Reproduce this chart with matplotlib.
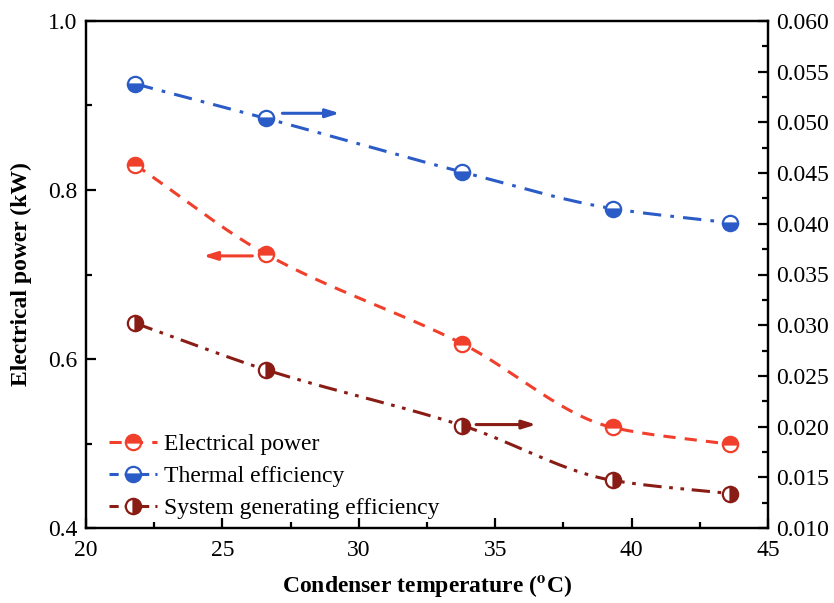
import numpy as np
import matplotlib
matplotlib.use("Agg")
import matplotlib.pyplot as plt
from matplotlib.ticker import MultipleLocator, FormatStrFormatter
from matplotlib.lines import Line2D

plt.rcParams['font.family'] = ['Liberation Serif', 'DejaVu Serif']
plt.rcParams['mathtext.fontset'] = 'stix'

temps = [21.8, 26.6, 33.8, 39.3, 43.6]
electrical_power = [0.830, 0.724, 0.618, 0.519, 0.499]
thermal_eff = [0.0538, 0.0504, 0.0451, 0.0415, 0.0401]
system_eff = [0.0302, 0.0256, 0.0201, 0.0147, 0.0134]

RED = '#f0402c'
BLUE = '#2b5bc6'
DRED = '#8a1c16'


def smooth(x, y, n=200):
    """Monotone (PCHIP) curve through the data points for drawing the line."""
    x = np.asarray(x, float); y = np.asarray(y, float)
    h = np.diff(x); delta = np.diff(y) / h
    m = len(x); d = np.zeros(m)
    for i in range(1, m - 1):
        if delta[i - 1] * delta[i] > 0:
            w1 = 2 * h[i] + h[i - 1]; w2 = h[i] + 2 * h[i - 1]
            d[i] = (w1 + w2) / (w1 / delta[i - 1] + w2 / delta[i])
    d[0] = delta[0]; d[-1] = delta[-1]
    xs = np.linspace(x[0], x[-1], n); ys = np.empty_like(xs)
    for k, xv in enumerate(xs):
        i = min(np.searchsorted(x, xv, side='right') - 1, m - 2)
        t = (xv - x[i]) / h[i]
        h00 = 2 * t**3 - 3 * t**2 + 1; h10 = t**3 - 2 * t**2 + t
        h01 = -2 * t**3 + 3 * t**2; h11 = t**3 - t**2
        ys[k] = h00 * y[i] + h10 * h[i] * d[i] + h01 * y[i + 1] + h11 * h[i] * d[i + 1]
    return xs, ys


fig = plt.figure(figsize=(8.34, 6.03), dpi=100)
ax = fig.add_axes([86 / 834, 1 - 528 / 603, (768 - 86) / 834, (528 - 21) / 603])
ax2 = ax.twinx()

ms = 11
mew = 1.6
lw = 2.2
D_E = (4, 3)
D_T = (6, 3, 1.2, 3)
D_S = (6, 2.5, 1.2, 2.5, 1.2, 2.5)

xs, ys = smooth(temps, electrical_power)
ax.plot(xs, ys, color=RED, lw=lw, dashes=D_E)
ax.plot(temps, electrical_power, ls='none', marker='o', ms=ms, mew=mew,
        color=RED, mfc=RED, mfcalt='white', fillstyle='top', zorder=5)

xs, ys = smooth(temps, thermal_eff)
ax2.plot(xs, ys, color=BLUE, lw=lw, dashes=D_T)
ax2.plot(temps, thermal_eff, ls='none', marker='o', ms=ms, mew=mew,
         color=BLUE, mfc=BLUE, mfcalt='white', fillstyle='bottom', zorder=5)

xs, ys = smooth(temps, system_eff)
ax2.plot(xs, ys, color=DRED, lw=lw, dashes=D_S)
ax2.plot(temps, system_eff, ls='none', marker='o', ms=ms, mew=mew,
         color=DRED, mfc=DRED, mfcalt='white', fillstyle='right', zorder=5)

ap = dict(arrowstyle='-|>,head_length=0.8,head_width=0.25', lw=2.2, shrinkA=0, shrinkB=0)
ax2.annotate('', xy=(29.3, 0.0509), xytext=(27.2, 0.0509), arrowprops=dict(ap, color=BLUE))
ax.annotate('', xy=(24.3, 0.722), xytext=(26.1, 0.722), arrowprops=dict(ap, color=RED))
ax2.annotate('', xy=(36.5, 0.0202), xytext=(34.3, 0.0202), arrowprops=dict(ap, color=DRED))

ax.set_xlim(20, 45)
ax.set_ylim(0.4, 1.0)
ax2.set_ylim(0.010, 0.060)
ax.xaxis.set_major_locator(MultipleLocator(5))
ax.xaxis.set_minor_locator(MultipleLocator(2.5))
ax.yaxis.set_major_locator(MultipleLocator(0.2))
ax.yaxis.set_minor_locator(MultipleLocator(0.1))
ax2.yaxis.set_major_locator(MultipleLocator(0.005))
ax2.yaxis.set_minor_locator(MultipleLocator(0.0025))
ax.yaxis.set_major_formatter(FormatStrFormatter('%.1f'))
ax2.yaxis.set_major_formatter(FormatStrFormatter('%.3f'))

for a in (ax, ax2):
    a.tick_params(which='major', direction='in', length=7, width=1.6, labelsize=17)
    a.tick_params(which='minor', direction='in', length=4, width=1.6)
    for s in a.spines.values():
        s.set_linewidth(1.6)
ax.tick_params(axis='x', pad=9)
ax.tick_params(axis='y', pad=6)
ax2.tick_params(axis='y', pad=6)

ax.set_xlabel(r'Condenser temperature ($\mathbf{^{o}}$C)', fontsize=17, fontweight='bold', labelpad=8)
ax.set_ylabel('Electrical power (kW)', fontsize=17, fontweight='bold', labelpad=12)

h1 = Line2D([], [], color=RED, lw=lw, dashes=D_E, marker='o', ms=ms, mew=mew,
            mfc=RED, mfcalt='white', fillstyle='top')
h2 = Line2D([], [], color=BLUE, lw=lw, dashes=(3, 2), marker='o', ms=ms, mew=mew,
            mfc=BLUE, mfcalt='white', fillstyle='bottom')
h3 = Line2D([], [], color=DRED, lw=lw, dashes=(3, 2), marker='o', ms=ms, mew=mew,
            mfc=DRED, mfcalt='white', fillstyle='right')
ax2.legend([h1, h2, h3], ['Electrical power', 'Thermal efficiency', 'System generating efficiency'],
           loc='lower left', bbox_to_anchor=(0.005, -0.022), frameon=False, fontsize=17,
           handlelength=2.0, handletextpad=0.3, labelspacing=0.45, borderpad=0.35)

fig.savefig('out.png', dpi=100)
